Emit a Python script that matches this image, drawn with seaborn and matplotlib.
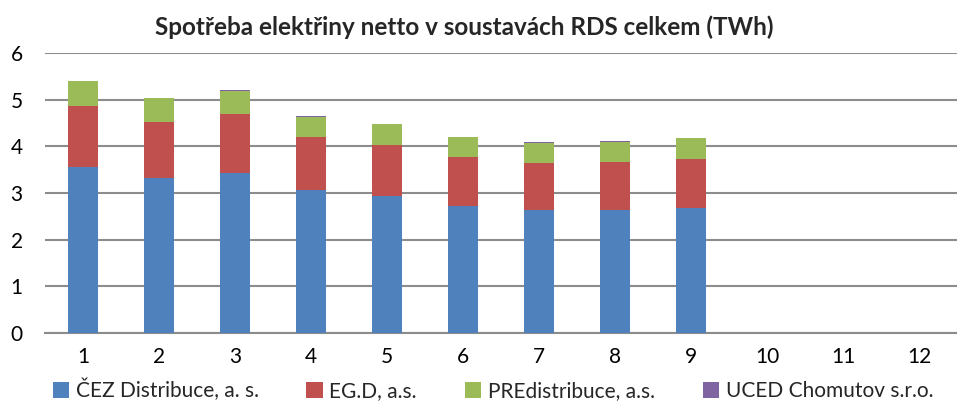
import matplotlib
matplotlib.use("Agg")
import matplotlib.pyplot as plt
import numpy as np
import pandas as pd
import seaborn as sns
from matplotlib.patches import Patch

months = [str(m) for m in range(1, 13)]
cez = [3.56, 3.33, 3.43, 3.06, 2.94, 2.72, 2.63, 2.63, 2.67, 0, 0, 0]
egd = [1.30, 1.20, 1.26, 1.14, 1.10, 1.05, 1.01, 1.03, 1.05, 0, 0, 0]
pre = [0.54, 0.50, 0.50, 0.44, 0.44, 0.43, 0.44, 0.44, 0.45, 0, 0, 0]
uced = [0.01, 0.01, 0.02, 0.01, 0.01, 0.01, 0.01, 0.01, 0.01, 0, 0, 0]

series = ["ČEZ Distribuce, a. s.", "EG.D, a.s.", "PREdistribuce, a.s.", "UCED Chomutov s.r.o."]
colors = ["#4F81BD", "#C0504D", "#9BBB59", "#8064A2"]

sns.set_theme(style="white")
plt.rcParams["font.family"] = ["Lato", "DejaVu Sans"]

fig = plt.figure(figsize=(9.57, 4.12), dpi=100)
ax = fig.add_axes([0.047, 0.192, 0.953, 0.679])

# stacked bars: draw cumulative totals from the top series down
stack = np.cumsum(np.array([cez, egd, pre, uced]), axis=0)
for i in range(len(series) - 1, -1, -1):
    df = pd.DataFrame({"month": months, "value": stack[i]})
    sns.barplot(data=df, x="month", y="value", order=months, color=colors[i],
                width=0.4, saturation=1, linewidth=0, ax=ax, zorder=3)

ax.set_ylim(0, 6)
ax.set_yticks(range(0, 7))
ax.set_xlim(-0.5, 11.5)
ax.yaxis.grid(True, color="#8c8c8c", linewidth=1.5)
ax.set_axisbelow(True)
for s in ["top", "right", "left"]:
    ax.spines[s].set_visible(False)
ax.spines["bottom"].set_color("#8c8c8c")
ax.spines["bottom"].set_linewidth(1.5)
ax.tick_params(axis="both", length=0, labelsize=15, colors="black")
ax.tick_params(axis="x", pad=10)
ax.tick_params(axis="y", pad=16)
ax.set_xlabel("")
ax.set_ylabel("")

fig.text(0.485, 0.935, "Spotřeba elektřiny netto v soustavách RDS celkem (TWh)",
         ha="center", va="center", fontsize=17.5, fontweight="bold")

handles = [Patch(facecolor=c, edgecolor="none") for c in colors]
fig.legend(handles, series, loc="lower center", bbox_to_anchor=(0.515, -0.02),
           ncol=4, frameon=False, fontsize=15, handlelength=0.8, handleheight=0.8,
           handletextpad=0.3, columnspacing=2.3)

fig.savefig("out.png", dpi=100)
